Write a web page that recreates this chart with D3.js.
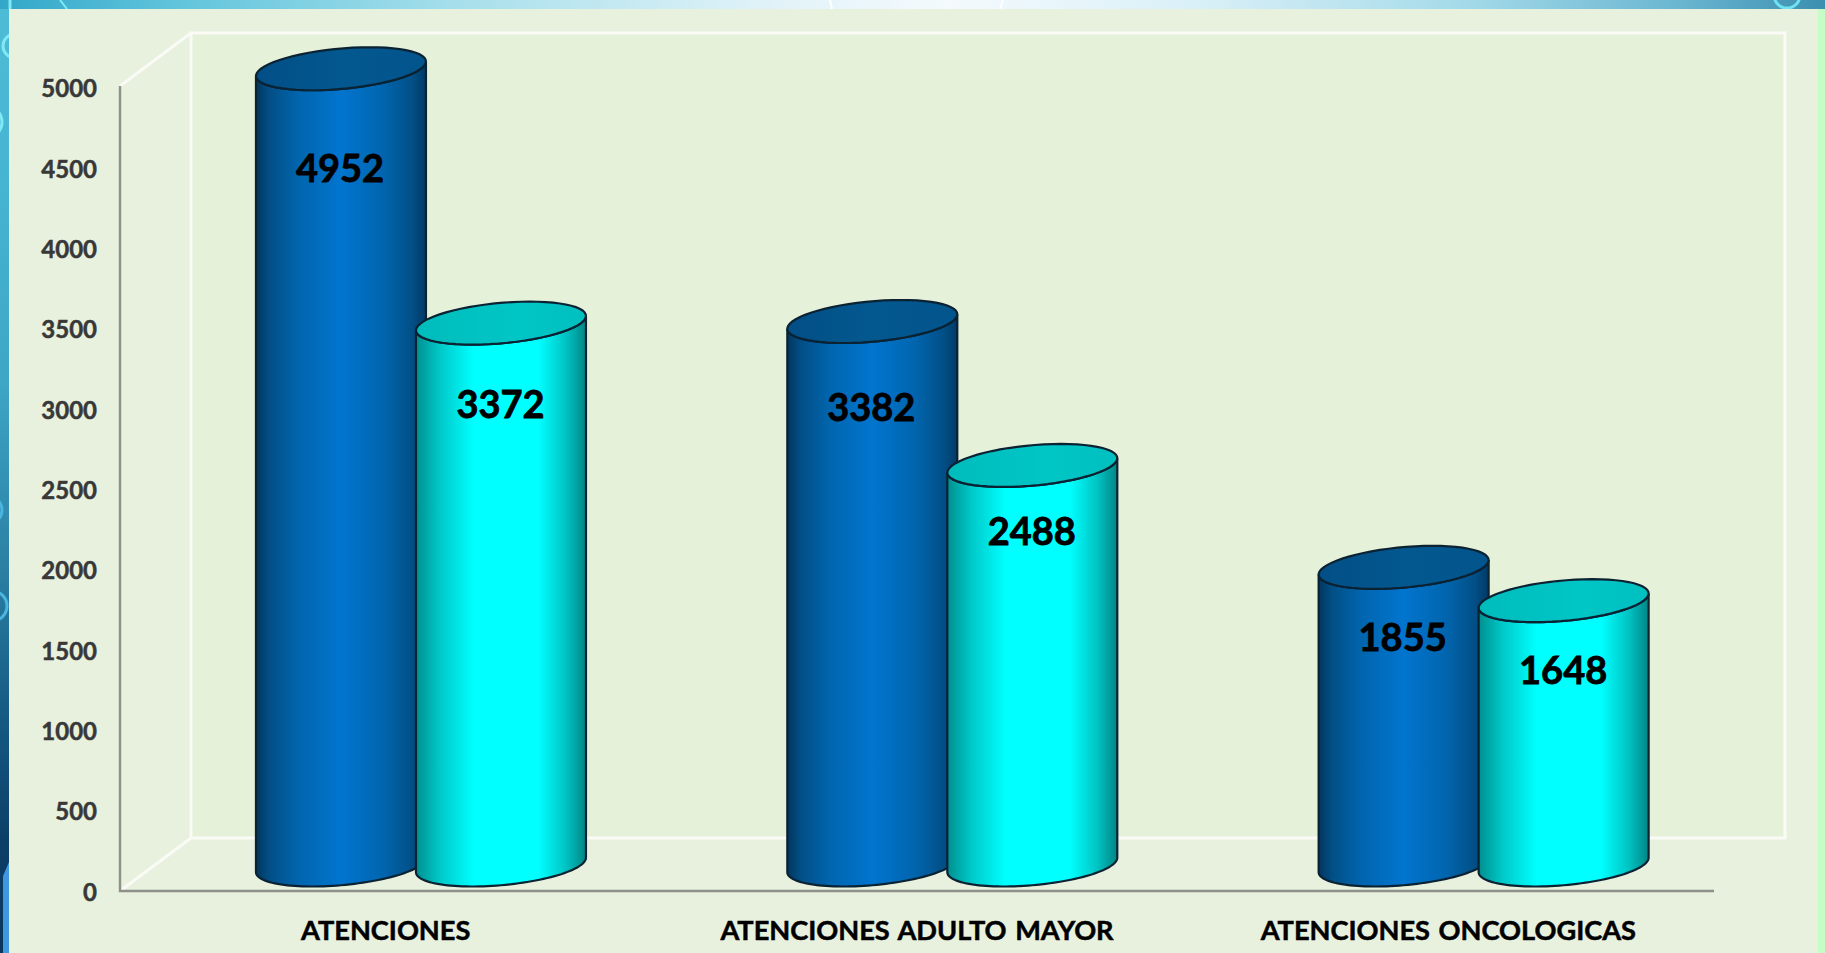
<!DOCTYPE html>
<html>
<head>
<meta charset="utf-8">
<script src="https://cdn.jsdelivr.net/npm/d3@7"></script>
<style>
  html, body { margin: 0; padding: 0; background: #e8f1de; overflow: hidden; }
  svg { display: block; }
  text { font-family: Lato, "Open Sans", sans-serif; font-weight: 700; }
</style>
</head>
<body>
<svg id="chart" width="1825" height="953"></svg>
<script>
const categories = ['ATENCIONES', 'ATENCIONES ADULTO MAYOR', 'ATENCIONES ONCOLOGICAS'];
const seriesNames = ['A', 'B'];
const valuesA = [4952, 3382, 1855];
const valuesB = [3372, 2488, 1648];
const yTicks = [0, 500, 1000, 1500, 2000, 2500, 3000, 3500, 4000, 4500, 5000];

const svg = d3.select('#chart');
const defs = svg.append('defs');

function gradient(id, stops, vertical) {
  let g = defs.append('linearGradient').attr('id', id)
    .attr('x1', 0).attr('y1', 0)
    .attr('x2', vertical ? 0 : 1).attr('y2', vertical ? 1 : 0);
  stops.forEach(([o, c]) => g.append('stop').attr('offset', o).attr('stop-color', c));
}
gradient('bodyA', [[0, '#02365f'], [0.08, '#024f86'], [0.25, '#0165ae'], [0.5, '#0175cf'], [0.75, '#0165ae'], [0.92, '#024f86'], [1, '#023a66']]);
gradient('bodyB', [[0, '#008f8f'], [0.14, '#00c8c8'], [0.34, '#00ffff'], [0.72, '#00ffff'], [0.88, '#00c4c4'], [1, '#008585']]);
gradient('topA', [[0, '#024f86'], [0.5, '#02588f'], [1, '#02558c']]);
gradient('topB', [[0, '#00bcbc'], [0.6, '#00c6c6'], [1, '#00bfbf']]);
gradient('strip', [[0, '#33a7c9'], [0.1, '#62c5dc'], [0.25, '#a6dfeb'], [0.42, '#e0f2f8'], [0.52, '#f4fafd'], [0.66, '#d8eff7'], [0.8, '#a5dbe9'], [0.92, '#6ab6d1'], [1, '#3c8fb0']]);
gradient('side', [[0, '#4fbcd6'], [0.2, '#45b4d2'], [0.4, '#3ea6c6'], [0.6, '#2a7fa3'], [0.75, '#155a84'], [0.88, '#0c3f68'], [1, '#0a355c']], true);

// slide behind the chart
svg.append('rect').attr('width', 1825).attr('height', 953).attr('fill', 'url(#side)');
svg.append('rect').attr('width', 1825).attr('height', 9).attr('fill', 'url(#strip)');
svg.append('rect').attr('x', 1818).attr('y', 9).attr('width', 7).attr('height', 944).attr('fill', '#c6fdc6');

const rings = svg.append('g').attr('fill', 'none');
rings.append('circle').attr('cx', 15).attr('cy', 46).attr('r', 12).attr('stroke', '#7fe9f5').attr('stroke-width', 3);
rings.append('circle').attr('cx', -14).attr('cy', 122).attr('r', 16).attr('stroke', '#7fe9f5').attr('stroke-width', 3);
rings.append('circle').attr('cx', -12).attr('cy', 510).attr('r', 14).attr('stroke', '#4ab5e0').attr('stroke-width', 3);
rings.append('circle').attr('cx', -8).attr('cy', 606).attr('r', 15).attr('stroke', '#4ab5e0').attr('stroke-width', 3);
rings.append('circle').attr('cx', 1787).attr('cy', -5).attr('r', 13).attr('stroke', '#6fe3f2').attr('stroke-width', 3);
rings.append('path').attr('d', 'M60,0 L67,9').attr('stroke', '#7fe9f5').attr('stroke-width', 2);
rings.append('path').attr('d', 'M10,0 L10,9').attr('stroke', '#7fe9f5').attr('stroke-width', 3);
rings.append('path').attr('d', 'M830,0 L832,9 M1003,0 L1000,9').attr('stroke', '#ffffff').attr('stroke-width', 2);
svg.append('path').attr('d', 'M3,876 L9,862 L9,953 L3,953 Z').attr('fill', '#3f97dd');

svg.append('rect').attr('x', 9).attr('y', 9).attr('width', 1809).attr('height', 944).attr('fill', '#e8f1de');

// scales
const y = d3.scaleLinear().domain([0, 5000]).range([891, 86]);
const yLabel = d3.scaleLinear().domain([0, 5000]).range([892.5, 89]);
const x0 = d3.scaleBand().domain(categories).range([120, 1714]);
const x1 = d3.scalePoint().domain(seriesNames).range([-80.5, 79.5]);

// floor/wall depth
const depthX = 71, depthY = 53;
const backLeft = 120 + depthX, backRight = 1714 + depthX;
const backTop = y(5000) - depthY, backBottom = y(0) - depthY;

svg.append('rect').attr('x', backLeft).attr('y', backTop)
  .attr('width', backRight - backLeft).attr('height', backBottom - backTop)
  .attr('fill', '#e5f1d9').attr('stroke', '#fafbf6').attr('stroke-width', 3);
svg.append('path')
  .attr('d', `M120,${y(5000)} L${backLeft},${backTop} M120,${y(0)} L${backLeft},${backBottom}`)
  .attr('fill', 'none').attr('stroke', '#fafbf6').attr('stroke-width', 3);

svg.append('path')
  .attr('d', `M120,${y(5000)} L120,${y(0)} L1714,${y(0)}`)
  .attr('fill', 'none').attr('stroke', '#8e918a').attr('stroke-width', 2.4);

// axes
const yAxis = svg.append('g').attr('transform', 'translate(97,0)')
  .call(d3.axisLeft(yLabel).tickValues(yTicks).tickSize(0).tickPadding(0).tickFormat(d3.format('d')));
yAxis.select('.domain').remove();
yAxis.selectAll('text').attr('font-size', 24).attr('fill', '#383838')
  .attr('stroke', '#383838').attr('stroke-width', 0.5)
  .style('font-family', 'Lato').style('font-weight', 700);

const xAxis = svg.append('g').attr('transform', 'translate(0,921)')
  .call(d3.axisBottom(x0).tickSize(0).tickPadding(0));
xAxis.select('.domain').remove();
xAxis.selectAll('text').attr('font-size', 27.2).attr('fill', '#000')
  .attr('stroke', '#000').attr('stroke-width', 0.5).attr('word-spacing', 2)
  .style('font-family', 'Lato').style('font-weight', 700);

// cylinders
const skewRx = 80, skewDx = 28.7, skewDy = 21.5, topLift = 25, baseLift = 26;

function ringPath(cx, cy, from, to) {
  // base circle projected onto the oblique floor
  return d3.range(0, 61).map((i) => {
    let t = from + (to - from) * i / 60;
    return [cx + skewRx * Math.cos(t) + skewDx * Math.sin(t), cy - skewDy * Math.sin(t)];
  });
}
const line = d3.line();

function cylinder(g, cx, value, s) {
  let topY = y(value) - topLift, baseY = y(0) - baseLift;
  let tExt = Math.atan2(skewDx, skewRx);
  // lower half of the base from right extreme round to left extreme
  let lower = ringPath(cx, baseY, tExt, tExt - Math.PI);
  let upper = ringPath(cx, topY, tExt - Math.PI, tExt);
  g.append('path').attr('d', line(lower.concat(upper)) + 'Z')
    .attr('fill', `url(#body${s})`).attr('stroke', '#0b2233').attr('stroke-width', 2.2);
  g.append('path').attr('d', line(ringPath(cx, topY, 0, 2 * Math.PI)) + 'Z')
    .attr('fill', `url(#top${s})`).attr('stroke', '#0b2233').attr('stroke-width', 2.2);
}

const labelDrop = { A: [75, 61, 45], B: [56, 41, 45] };
const labelShift = { A: -0.5, B: 0 };

[['A', valuesA], ['B', valuesB]].forEach(([s, vals]) => {
  vals.forEach((v, i) => {
    let cx = x0(categories[i]) + x0.bandwidth() / 2 + 35.8 + x1(s);
    cylinder(svg.append('g'), cx, v, s);
  });
});

[['A', valuesA], ['B', valuesB]].forEach(([s, vals]) => {
  vals.forEach((v, i) => {
    let cx = x0(categories[i]) + x0.bandwidth() / 2 + 35.3 + x1(s);
    svg.append('text').attr('x', cx + labelShift[s]).attr('y', y(v) + labelDrop[s][i])
      .attr('dy', '0.36em').attr('text-anchor', 'middle')
      .attr('font-size', 38).attr('fill', '#000')
      .attr('stroke', '#000').attr('stroke-width', 0.8).text(v);
  });
});
</script>
</body>
</html>
